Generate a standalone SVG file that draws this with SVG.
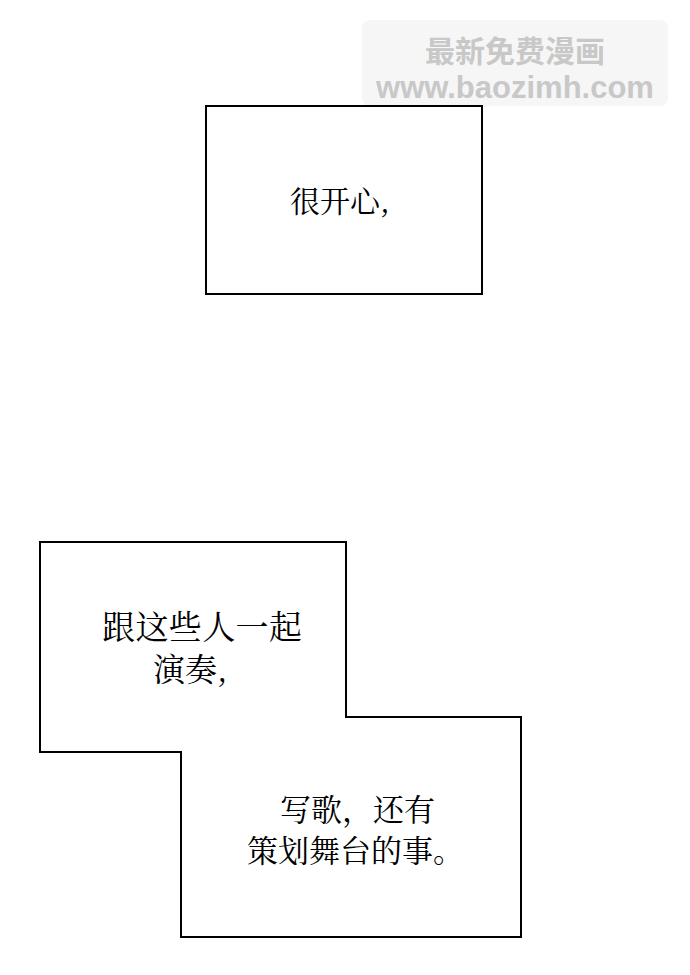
<svg xmlns="http://www.w3.org/2000/svg" width="690" height="975" viewBox="0 0 690 975">
<style>
.box{fill:#fff;stroke:#000;stroke-width:2}
.t{font-family:"Noto Serif CJK SC","Noto Sans CJK SC",serif;fill:#000}
.wm{font-family:"Liberation Sans","Noto Sans CJK SC",sans-serif;fill:#c8c8c8;font-weight:bold}
</style>
<rect width="690" height="975" fill="#fff"/>
<g id="watermark">
<rect x="362" y="20" width="306" height="86" rx="8" fill="#f6f6f6"/>
<text class="wm" x="515" y="62" font-size="30" text-anchor="middle">最新免费漫画</text>
<text class="wm" x="515" y="98" font-size="31" text-anchor="middle">www.baozimh.com</text>
</g>
<g id="box1">
<rect class="box" x="206" y="106" width="276" height="188"/>
<text class="t" x="290" y="212" font-size="30">很开心,</text>
</g>
<g id="box2">
<polygon class="box" points="40,542 346,542 346,717 521,717 521,937 181,937 181,752 40,752"/>
<text class="t" x="102" y="639" font-size="33" textLength="200">跟这些人一起</text>
<text class="t" x="153" y="681" font-size="32">演奏,</text>
<text class="t" x="280" y="821" font-size="31">写歌，还有</text>
<text class="t" x="247" y="862" font-size="31">策划舞台的事。</text>
</g>
<g id="connectors"/>
</svg>
